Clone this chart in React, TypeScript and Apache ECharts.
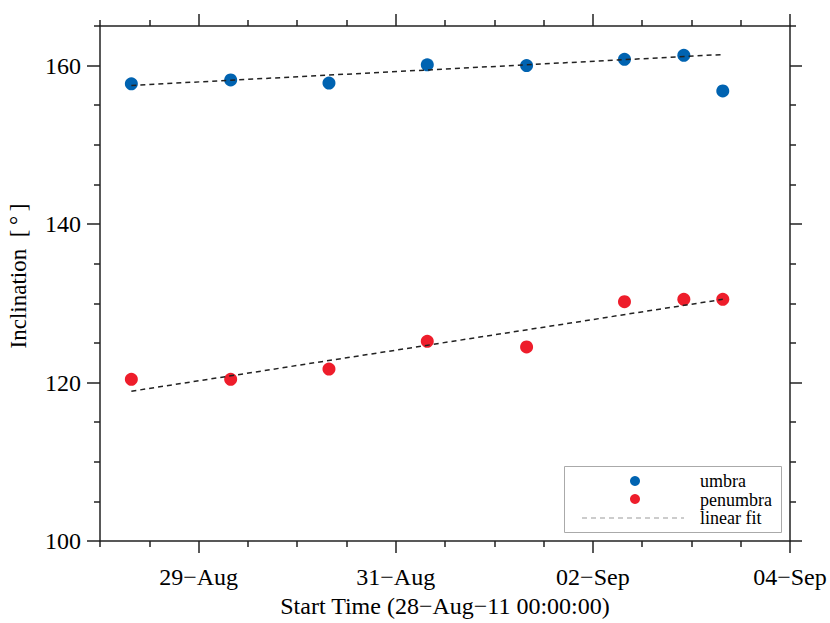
import React, { useEffect, useRef } from 'react';
import * as echarts from 'echarts';

// Observation start times (UTC)
const obsTimes = [
  '2011-08-28T07:38:00Z',
  '2011-08-29T07:49:00Z',
  '2011-08-30T07:45:00Z',
  '2011-08-31T07:41:00Z',
  '2011-09-01T07:52:00Z',
  '2011-09-02T07:42:00Z',
  '2011-09-02T22:09:00Z',
  '2011-09-03T07:38:00Z',
];
const umbraValues = [157.7, 158.2, 157.8, 160.1, 160.0, 160.8, 161.3, 156.8];
const penumbraValues = [120.4, 120.4, 121.7, 125.2, 124.5, 130.2, 130.5, 130.5];
// linear fit end values (at first and last observation)
const umbraFit = [157.5, 161.4];
const penumbraFit = [118.9, 130.5];

const xStart = '2011-08-28T00:00:00Z';
const xEnd = '2011-09-04T00:00:00Z';
const xMajorTicks = ['2011-08-29T00:00:00Z', '2011-08-31T00:00:00Z', '2011-09-02T00:00:00Z', '2011-09-04T00:00:00Z'];
const yMajorTicks = [100, 120, 140, 160];
const yMinorTicks = [105, 110, 115, 125, 130, 135, 145, 150, 155, 165];
const legendNames = ['umbra', 'penumbra', 'linear fit'];
const xTitle = 'Start Time (28\u2212Aug\u221211 00:00:00)';
const yTitle = 'Inclination\u00a0\u00a0[\u2009\u00b0\u2009]';

const BLUE = '#0063b1';
const RED = '#ee1d2b';
const INK = '#222';
const FONT = '"Liberation Serif", "DejaVu Serif", serif';
const MONTHS = ['Jan', 'Feb', 'Mar', 'Apr', 'May', 'Jun', 'Jul', 'Aug', 'Sep', 'Oct', 'Nov', 'Dec'];

const ms = (s: string) => Date.parse(s);

export default function App() {
  const ref = useRef<HTMLDivElement>(null);
  useEffect(() => {
    if (!ref.current) return;
    const chart = echarts.init(ref.current, undefined, { renderer: 'svg' });
    const xMin = ms(xStart);
    const xMax = ms(xEnd);
    const majorX = xMajorTicks.map(ms);
    const minorX: number[] = [];
    for (let t = xMin; t <= xMax; t += 43200000) {
      if (!majorX.includes(t)) minorX.push(t);
    }
    const fmt = (v: number) => {
      const d = new Date(v);
      const dd = String(d.getUTCDate()).padStart(2, '0');
      return dd + '\u2212' + MONTHS[d.getUTCMonth()];
    };
    const lineStyle = { color: INK, width: 1.5 };
    const xBase = (pos: 'bottom' | 'top', ticks: number[], len: number, labels: boolean, line: boolean) => ({
      type: 'value',
      position: pos,
      min: xMin,
      max: xMax,
      splitLine: { show: false },
      axisLine: { show: line, lineStyle },
      axisTick: { show: true, customValues: ticks, length: len, inside: false, lineStyle },
      axisLabel: labels
        ? {
            show: true,
            customValues: majorX,
            formatter: fmt,
            fontFamily: FONT,
            fontSize: 24,
            color: '#000',
            margin: 24,
          }
        : { show: false },
    });
    const yBase = (pos: 'left' | 'right', ticks: number[], len: number, labels: boolean, line: boolean) => ({
      type: 'value',
      position: pos,
      min: 100,
      max: 165,
      splitLine: { show: false },
      axisLine: { show: line, lineStyle },
      axisTick: { show: true, customValues: ticks, length: len, inside: false, lineStyle },
      axisLabel: labels
        ? {
            show: true,
            customValues: yMajorTicks,
            fontFamily: FONT,
            fontSize: 24,
            color: '#000',
            margin: 19,
          }
        : { show: false },
    });
    const scatterData = (vals: number[]) => obsTimes.map((t, i) => [ms(t), vals[i]]);
    const t0 = ms(obsTimes[0]);
    const t1 = ms(obsTimes[obsTimes.length - 1]);
    const fitStyle = { color: INK, width: 1.5, type: [5, 4] };
    chart.setOption({
      animation: false,
      backgroundColor: '#fff',
      grid: { left: 100, right: 40, top: 26, bottom: 82, outerBoundsMode: 'none', containLabel: false },
      xAxis: [
        {
          ...xBase('bottom', majorX, 12, true, true),
          name: xTitle,
          nameLocation: 'middle',
          nameGap: 52,
          nameTextStyle: { fontFamily: FONT, fontSize: 24, color: '#000' },
        },
        xBase('bottom', minorX, 6, false, false),
        xBase('top', majorX, 12, false, true),
        xBase('top', minorX, 6, false, false),
      ],
      yAxis: [
        yBase('left', yMajorTicks, 13, true, true),
        yBase('left', yMinorTicks, 6, false, false),
        yBase('right', yMajorTicks, 12, false, true),
        yBase('right', yMinorTicks, 6, false, false),
      ],
      series: [
        {
          name: legendNames[0],
          type: 'scatter',
          data: scatterData(umbraValues),
          symbol: 'circle',
          symbolSize: 13,
          itemStyle: { color: BLUE, opacity: 1 },
          z: 2,
        },
        {
          name: legendNames[1],
          type: 'scatter',
          data: scatterData(penumbraValues),
          symbol: 'circle',
          symbolSize: 13,
          itemStyle: { color: RED, opacity: 1 },
          z: 2,
        },
        {
          name: legendNames[2],
          type: 'line',
          data: [[t0, umbraFit[0]], [t1, umbraFit[1]]],
          showSymbol: false,
          symbol: 'none',
          lineStyle: fitStyle,
          z: 3,
        },
        {
          name: legendNames[2] + ' (penumbra)',
          type: 'line',
          data: [[t0, penumbraFit[0]], [t1, penumbraFit[1]]],
          showSymbol: false,
          symbol: 'none',
          lineStyle: fitStyle,
          z: 3,
        },
      ],
      graphic: [
        {
          type: 'text',
          x: 18,
          y: 276,
          rotation: Math.PI / 2,
          style: {
            text: yTitle,
            fontFamily: FONT,
            fontSize: 23,
            fill: '#000',
            align: 'center',
            verticalAlign: 'middle',
          },
        },
        {
          type: 'rect',
          shape: { x: 564.5, y: 466.5, width: 217, height: 66 },
          style: { fill: '#fff', stroke: '#aaa', lineWidth: 1 },
          z: 10,
        },
        { type: 'circle', shape: { cx: 635, cy: 481, r: 5 }, style: { fill: BLUE }, z: 11 },
        { type: 'circle', shape: { cx: 635, cy: 499, r: 5 }, style: { fill: RED }, z: 11 },
        {
          type: 'line',
          shape: { x1: 582, y1: 518, x2: 684, y2: 518 },
          style: { stroke: '#999', lineWidth: 1, lineDash: [5, 4] },
          z: 11,
        },
        ...legendNames.map((n, i) => ({
          type: 'text',
          x: 700,
          y: 481 + i * 18.5,
          style: {
            text: n,
            fontFamily: FONT,
            fontSize: 18,
            fill: '#000',
            verticalAlign: 'middle',
            align: 'left',
          },
          z: 11,
        })),
      ],
    });
    return () => chart.dispose();
  }, []);
  return (
    <div
      ref={ref}
      style={{ position: 'fixed', left: 0, top: 0, width: 830, height: 623, background: '#fff' }}
    />
  );
}
